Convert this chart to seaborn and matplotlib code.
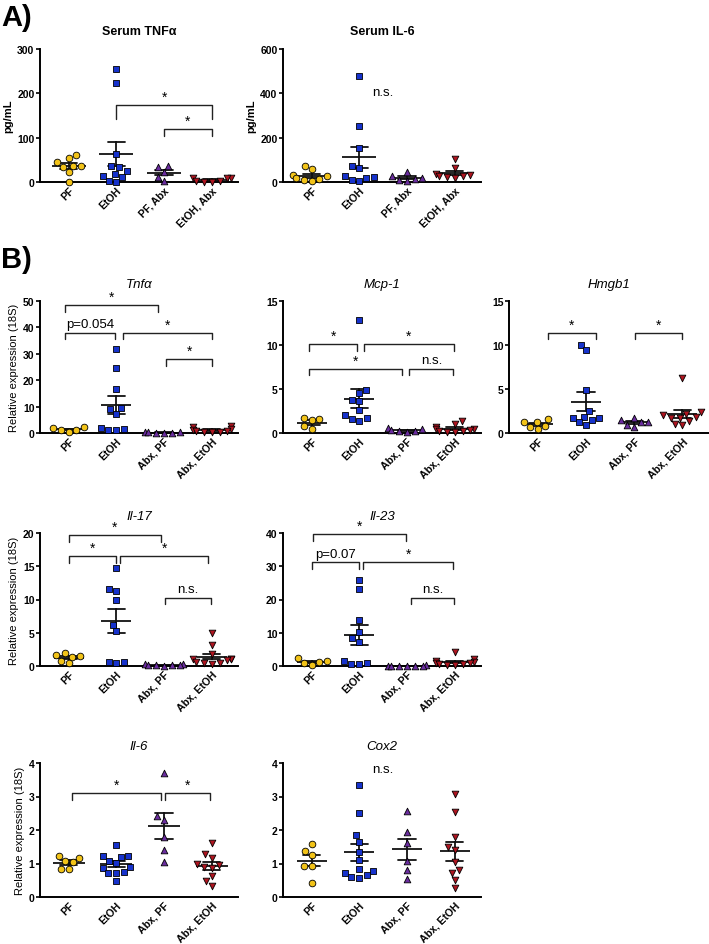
import numpy as np
import pandas as pd
import seaborn as sns
from matplotlib import pyplot as plt

sns.set_style('ticks')
plt.rcParams['font.family'] = ['Liberation Sans', 'DejaVu Sans']
plt.rcParams.update({'text.color': 'black', 'axes.labelcolor': 'black',
                     'xtick.color': 'black', 'ytick.color': 'black',
                     'axes.edgecolor': 'black'})

colors = ['#F2C318', '#1632CC', '#6A2D9F', '#AE1520']
markers = ['o', 's', '^', 'v']
groups_a = ['PF', 'EtOH', 'PF, Abx', 'EtOH, Abx']
groups_b = ['PF', 'EtOH', 'Abx, PF', 'Abx, EtOH']

# panel A, serum (pg/mL), one list per group
serum_tnf = [
    [62, 55, 44, 36, 36, 34, 22, 1],
    [256, 224, 63, 36, 33, 25, 18, 14, 12, 3, 1],
    [36, 34, 22, 12, 2],
    [10, 10, 9, 3, 2, 1, 1],
]
serum_il6 = [
    [72, 57, 30, 25, 20, 12, 8, 5],
    [480, 252, 154, 72, 64, 28, 22, 20, 10, 5],
    [45, 25, 20, 15, 10, 5],
    [105, 62, 35, 30, 28, 25, 22, 20],
]

# panel B, relative expression (18S)
tnfa = [
    [2.2, 1.8, 1.3, 1.0, 0.5],
    [31.8, 24.6, 16.7, 9.6, 9.0, 7.3, 1.8, 1.6, 1.3, 1.2],
    [0.3, 0.2, 0.2, 0.1, 0.1, 0.1],
    [2.5, 2.2, 1.5, 1.0, 0.8, 0.6, 0.4, 0.3, 0.2],
]
mcp1 = [
    [1.7, 1.55, 1.5, 0.75, 0.45],
    [12.8, 4.9, 4.5, 3.75, 3.65, 2.6, 2.0, 1.75, 1.55, 1.4],
    [0.6, 0.5, 0.3, 0.2, 0.2, 0.1],
    [1.4, 1.0, 0.7, 0.5, 0.4, 0.3, 0.2, 0.2, 0.1, 0.1],
]
hmgb1 = [
    [1.6, 1.3, 1.2, 0.8, 0.7, 0.45],
    [10.05, 9.4, 4.9, 2.5, 1.8, 1.75, 1.75, 1.5, 1.2, 0.9],
    [1.65, 1.5, 1.3, 1.2, 0.9, 0.7],
    [6.2, 2.4, 2.2, 2.0, 1.8, 1.75, 1.7, 1.4, 1.0, 0.9],
]
il17 = [
    [1.9, 1.6, 1.5, 1.4, 0.75, 0.4],
    [14.7, 11.65, 11.3, 9.95, 6.2, 5.2, 0.6, 0.4, 0.6],
    [0.3, 0.25, 0.2, 0.15, 0.1, 0.1, 0.05],
    [5.0, 3.2, 1.75, 1.1, 1.0, 1.0, 0.9, 0.4, 0.25, 0.4, 0.6],
]
il23 = [
    [2.4, 1.5, 1.3, 1.0, 0.3],
    [25.9, 23.3, 13.9, 10.3, 8.3, 7.2, 1.0, 0.6, 0.6, 1.4],
    [0.2, 0.15, 0.1, 0.1, 0.05, 0.05, 0.02],
    [4.3, 2.2, 1.4, 1.2, 1.0, 0.8, 0.6, 0.5, 0.4, 0.3],
]
il6 = [
    [1.23, 1.15, 1.08, 1.03, 0.84, 0.84],
    [1.56, 1.23, 1.2, 1.23, 1.08, 1.01, 0.91, 0.76, 0.88, 0.71, 0.73, 0.48],
    [3.71, 2.41, 2.31, 1.78, 1.41, 1.03],
    [1.6, 1.28, 1.16, 1.0, 0.95, 0.9, 0.88, 0.63, 0.48, 0.33],
]
cox2 = [
    [1.58, 1.38, 1.25, 0.93, 0.93, 0.42],
    [3.35, 2.51, 1.85, 1.65, 1.33, 1.1, 0.78, 0.83, 0.66, 0.71, 0.58, 0.6],
    [2.58, 1.95, 1.6, 1.08, 0.8, 0.55],
    [3.08, 2.55, 1.78, 1.5, 1.4, 1.03, 0.8, 0.71, 0.5, 0.26],
]

# significance brackets: (x from, x to, height, label[, tick drop])
br_serum_tnf = [(1.0, 3.0, 173, '*', 32), (2.0, 3.0, 119, '*', 15)]
br_tnfa = [(-0.08, 1.88, 48.4, '*'), (-0.08, 0.98, 38, 'p=0.054'),
           (1.13, 3.0, 38, '*'), (2.05, 3.0, 28, '*')]
br_mcp1 = [(-0.05, 0.95, 10.1, '*'), (1.1, 2.98, 10.1, '*'),
           (-0.05, 1.9, 7.3, '*'), (2.05, 2.97, 7.3, 'n.s.')]
br_hmgb1 = [(0.2, 1.2, 11.4, '*'), (2.02, 2.98, 11.4, '*')]
br_il17 = [(0.0, 1.93, 19.7, '*'), (0.0, 1.0, 16.5, '*'),
           (1.07, 2.93, 16.5, '*'), (2.03, 2.98, 10.3, 'n.s.')]
br_il23 = [(0.03, 1.98, 39.7, '*'), (0.01, 1.0, 31.2, 'p=0.07'),
           (1.08, 2.97, 31.2, '*'), (2.08, 2.99, 20.6, 'n.s.')]
br_il6 = [(0.08, 1.93, 3.1, '*'), (2.02, 2.97, 3.1, '*')]

W, H = 709, 945
fig = plt.figure(figsize=(W / 100, H / 100), dpi=100)


def axes_px(left, top, bottom, width=198):
    return fig.add_axes([left / W, 1 - bottom / H, width / W, (bottom - top) / H])


def panel(ax, groups, vals, title, ymax, step, brackets=(), ylabel=None,
          serum=False, note=None, mean_size=21):
    df = pd.DataFrame({'group': np.repeat(groups, [len(v) for v in vals]),
                       'value': np.concatenate(vals)})
    for g, c, m in zip(groups, colors, markers):
        sns.swarmplot(data=df[df.group == g], x='group', y='value', order=groups,
                      color=c, marker=m, size=4.8, edgecolor='black',
                      linewidth=0.6, ax=ax)
    sns.pointplot(data=df, x='group', y='value', order=groups, errorbar='se',
                  capsize=0.36, color='#111111', markers='_',
                  markersize=mean_size, markeredgewidth=1.3, linestyle='none',
                  err_kws={'linewidth': 1.3}, ax=ax)
    for coll in ax.collections:
        coll.set_clip_on(False)

    ax.set_xlim(-0.6, 3.55)
    ax.set_ylim(0, ymax)
    ax.set_yticks(np.arange(0, ymax + step / 2, step))
    ax.set_xlabel('')
    ax.set_ylabel(ylabel if ylabel else '', fontsize=8,
                  fontweight='bold' if serum else 'normal', labelpad=3)
    sns.despine(ax=ax)
    for s in ('left', 'bottom'):
        ax.spines[s].set_linewidth(1.4)
    ax.tick_params(axis='y', length=3, width=1.2, labelsize=7.5, pad=1)
    ax.tick_params(axis='x', length=0, labelsize=7.5, pad=2)
    for lab in ax.get_yticklabels():
        lab.set_fontweight('bold')
    ax.set_xticks(range(4))
    ax.set_xticklabels(groups, rotation=45, ha='right', rotation_mode='anchor',
                       fontweight='bold')
    if serum:
        ax.set_title(title, fontsize=9, fontweight='bold', pad=11)
    else:
        ax.set_title(title, fontsize=9.5, fontstyle='italic', pad=10)

    for br in brackets:
        x1, x2, y, lab = br[:4]
        d = br[4] if len(br) > 4 else 0.05 * ymax
        ax.plot([x1, x1, x2, x2], [y - d, y, y, y - d], color='#222222',
                lw=1.0, clip_on=False)
        if lab == '*':
            ax.text((x1 + x2) / 2, y + 0.01 * ymax, lab, ha='center',
                    va='bottom', fontsize=10)
        else:
            ax.text((x1 + x2) / 2, y + 0.02 * ymax, lab, ha='center',
                    va='bottom', fontsize=9.5)
    if note:
        ax.text(note[0], note[1], note[2], ha='center', va='center',
                fontsize=9.5)


ax = axes_px(40, 50, 183)
panel(ax, groups_a, serum_tnf, 'Serum TNF\u03b1', 300, 100, br_serum_tnf,
      ylabel='pg/mL', serum=True, mean_size=25)
ax = axes_px(283, 50, 183)
panel(ax, groups_a, serum_il6, 'Serum IL-6', 600, 200, ylabel='pg/mL',
      serum=True, note=(1.5, 405, 'n.s.'), mean_size=25)

ax = axes_px(40, 302, 434)
panel(ax, groups_b, tnfa, 'Tnf\u03b1', 50, 10, br_tnfa,
      ylabel='Relative expression (18S)')
ax = axes_px(283, 302, 434)
panel(ax, groups_b, mcp1, 'Mcp-1', 15, 5, br_mcp1)
ax = axes_px(509, 302, 434, width=200)
panel(ax, groups_b, hmgb1, 'Hmgb1', 15, 5, br_hmgb1)

ax = axes_px(40, 534, 667)
panel(ax, groups_b, il17, 'Il-17', 20, 5, br_il17,
      ylabel='Relative expression (18S)')
ax = axes_px(283, 534, 667)
panel(ax, groups_b, il23, 'Il-23', 40, 10, br_il23)

ax = axes_px(40, 764, 898)
panel(ax, groups_b, il6, 'Il-6', 4, 1, br_il6,
      ylabel='Relative expression (18S)', mean_size=23)
ax = axes_px(283, 764, 898)
panel(ax, groups_b, cox2, 'Cox2', 4, 1, note=(1.5, 3.81, 'n.s.'))

fig.text(1 / W, 1 - 4 / H, 'A)', fontsize=21, fontweight='bold', va='top')
fig.text(1 / W, 1 - 246 / H, 'B)', fontsize=21, fontweight='bold', va='top')

fig.savefig('out.png', dpi=100, facecolor='white')
